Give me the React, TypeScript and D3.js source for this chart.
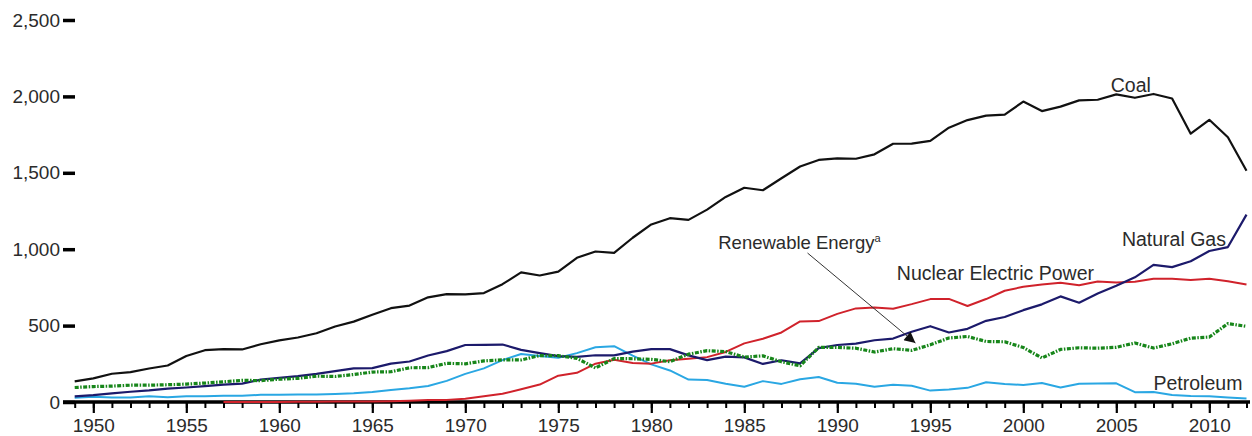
import * as d3 from 'd3';
import React, { useEffect, useRef } from 'react';

// Years 1949 - 2012
const years: number[] = d3.range(1949, 2013);

// Net generation, billion kWh
const coal = [135, 155, 185, 195, 219, 239, 301, 339, 346, 344,
  378, 403, 422, 450, 494, 526, 571, 614, 631, 685,
  706, 704, 713, 771, 848, 828, 853, 944, 985, 976,
  1075, 1162, 1203, 1192, 1259, 1342, 1402, 1386, 1464, 1541,
  1584, 1594, 1592, 1621, 1690, 1691, 1709, 1795, 1845, 1874,
  1881, 1966, 1904, 1933, 1974, 1978, 2013, 1991, 2016, 1986,
  1756, 1847, 1733, 1514];

const naturalGas = [37, 45, 57, 67, 76, 88, 95, 104, 114, 120,
  146, 158, 169, 184, 202, 220, 222, 251, 265, 304,
  333, 373, 374, 376, 341, 320, 300, 295, 306, 305,
  330, 346, 346, 305, 274, 297, 292, 249, 273, 253,
  353, 373, 382, 404, 415, 460, 496, 455, 479, 531,
  556, 601, 639, 691, 650, 710, 761, 816, 897, 883,
  921, 988, 1014, 1226];

const nuclear = [null, null, null, null, null, null, null, null, 0, 0.2,
  0.2, 0.5, 1.7, 2.3, 3.2, 3.3, 3.7, 5.5, 7.7, 12.5,
  13.9, 21.8, 38.1, 54.1, 83.5, 114, 172.5, 191.1, 250.9, 276.4,
  255.2, 251.1, 272.7, 282.8, 293.7, 327.6, 383.7, 414, 455.3, 527,
  529.4, 576.9, 612.6, 618.8, 610.3, 640.4, 673.4, 674.7, 628.6, 673.7,
  728.3, 753.9, 768.8, 780.1, 763.7, 788.5, 782, 787.2, 806.4, 806.2,
  798.9, 807, 790.2, 769.3];

const petroleum = [28.5, 33.7, 29.1, 29.9, 37.1, 31.3, 37.1, 37.3, 40.4, 40.7,
  47, 48, 48.5, 48.3, 52, 57, 64.8, 78.9, 89.3, 104.3,
  138.3, 184.2, 220.2, 274.3, 314.3, 300.9, 289.1, 320, 358.2, 365.1,
  303.5, 246, 206.4, 146.8, 144.5, 119.8, 100.2, 136.6, 118.5, 148.9,
  164, 126.5, 119.8, 100.2, 112.8, 105.9, 74.6, 81.4, 92.6, 128.8,
  118.1, 111.2, 124.9, 94.6, 119.4, 121.1, 122.2, 64.2, 65.7, 46.2,
  38.9, 37.1, 30.2, 23.2];

const renewable = [95, 101, 104, 110, 110, 113, 117, 124, 132, 142,
  140, 149, 155, 169, 167, 180, 196, 198, 224, 225,
  253, 250, 269, 276, 275, 304, 303, 286, 223, 284,
  283, 279, 264, 313, 336, 330, 294, 302, 263, 237,
  357, 357, 352, 327, 349, 338, 374, 419, 429, 396,
  394, 357, 288, 344, 355, 352, 358, 386, 353, 381,
  418, 425, 513, 495];

const yTicks = [0, 500, 1000, 1500, 2000, 2500];
const xMajorTicks = [1950, 1955, 1960, 1965, 1970, 1975, 1980, 1985, 1990, 1995, 2000, 2005, 2010];

const FONT = '"Liberation Sans", Arial, sans-serif';
const TEXT_COLOR = '#2b2b2b';

const App = () => {
  const ref = useRef<SVGSVGElement>(null);
  const width = 1252;
  const height = 436;

  useEffect(() => {
    const svg = d3.select(ref.current);
    svg.selectAll('*').remove();

    const x = d3.scaleLinear().domain([1949, 2012]).range([74.7, 1246.5]);
    const y = d3.scaleLinear().domain([0, 2500]).range([402, 20]);

    // x axis line
    svg.append('line')
      .attr('x1', 63).attr('x2', 1250)
      .attr('y1', y(0)).attr('y2', y(0))
      .attr('stroke', '#000').attr('stroke-width', 3.5);

    // minor ticks, every year
    const minor = svg.append('g')
      .attr('transform', 'translate(0,' + y(0) + ')')
      .call(d3.axisBottom(x).tickValues(years).tickSize(6).tickFormat(() => ''));
    minor.select('.domain').remove();
    minor.selectAll('.tick line').attr('stroke', '#000').attr('stroke-width', 2);

    // major ticks with labels
    const major = svg.append('g')
      .attr('transform', 'translate(0,' + y(0) + ')')
      .call(d3.axisBottom(x).tickValues(xMajorTicks).tickSize(11).tickPadding(6).tickFormat(d3.format('d')));
    major.select('.domain').remove();
    major.selectAll('.tick line').attr('stroke', '#000').attr('stroke-width', 2.2);
    major.selectAll('.tick text')
      .attr('fill', TEXT_COLOR)
      .style('font-family', FONT)
      .style('font-size', '19px');

    // y axis
    const yAxis = svg.append('g')
      .attr('transform', 'translate(75,0)')
      .call(d3.axisLeft(y).tickValues(yTicks).tickSize(12).tickPadding(3).tickFormat(d3.format(',')));
    yAxis.select('.domain').remove();
    yAxis.selectAll('.tick line').attr('stroke', '#000').attr('stroke-width', 3.5);
    yAxis.selectAll('.tick text')
      .attr('fill', TEXT_COLOR)
      .style('font-family', FONT)
      .style('font-size', '19px');

    const series = [
      { values: petroleum, color: '#2aa7e3', width: 2, dash: null },
      { values: nuclear, color: '#d0222b', width: 2, dash: null },
      { values: naturalGas, color: '#1c1a6b', width: 2.2, dash: null },
      { values: renewable, color: '#17861a', width: 3.2, dash: '4 1.5 1.5 1.5' },
      { values: coal, color: '#111111', width: 2.2, dash: null },
    ];

    series.forEach(function (s) {
      const line = d3.line<number | null>()
        .defined(function (d) { return d !== null; })
        .x(function (d, i) { return x(years[i]); })
        .y(function (d) { return y(d as number); });
      svg.append('path')
        .datum(s.values)
        .attr('fill', 'none')
        .attr('stroke', s.color)
        .attr('stroke-width', s.width)
        .attr('stroke-linejoin', 'round')
        .attr('stroke-dasharray', s.dash)
        .attr('d', line);
    });

    // arrow head marker
    svg.append('defs').append('marker')
      .attr('id', 'arrow')
      .attr('viewBox', '0 0 10 10')
      .attr('refX', 10).attr('refY', 5)
      .attr('markerWidth', 14).attr('markerHeight', 11)
      .attr('markerUnits', 'userSpaceOnUse')
      .attr('orient', 'auto')
      .append('path')
      .attr('d', 'M0,0 L10,5 L0,10 Z')
      .attr('fill', '#111');

    svg.append('line')
      .attr('x1', x(1988.4)).attr('y1', y(975))
      .attr('x2', x(1994.2)).attr('y2', y(386))
      .attr('stroke', '#333').attr('stroke-width', 1)
      .attr('marker-end', 'url(#arrow)');

    // series labels
    const labels = [
      { text: 'Coal', year: 2004.7, value: 2030 },
      { text: 'Natural Gas', year: 2005.3, value: 1021 },
      { text: 'Nuclear Electric Power', year: 1993.2, value: 798 },
      { text: 'Petroleum', year: 2007.0, value: 79 },
    ];
    labels.forEach(function (l) {
      svg.append('text')
        .attr('x', x(l.year)).attr('y', y(l.value))
        .attr('fill', TEXT_COLOR)
        .style('font-family', FONT)
        .style('font-size', '19.5px')
        .text(l.text);
    });

    const ren = svg.append('text')
      .attr('x', x(1983.6)).attr('y', y(1001))
      .attr('fill', TEXT_COLOR)
      .style('font-family', FONT)
      .style('font-size', '18.5px');
    ren.append('tspan').text('Renewable Energy');
    ren.append('tspan').attr('dy', -7).style('font-size', '11px').text('a');
  }, []);

  return (
    <div style={{ position: 'absolute', left: 0, top: 0 }}>
      <svg ref={ref} width={width} height={height} style={{ display: 'block', background: '#fff' }}>
      </svg>
    </div>
  );
};

export default App;
